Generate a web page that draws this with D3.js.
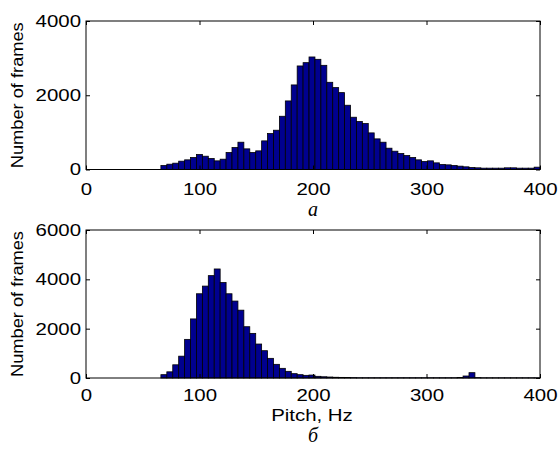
<!DOCTYPE html>
<html>
<head>
<meta charset="utf-8">
<script src="https://cdn.jsdelivr.net/npm/d3@7"></script>
<style>
  body { margin: 0; background: #fff; }
  text { font-family: "Liberation Sans", Arial, sans-serif; fill: #000; }
</style>
</head>
<body>
<svg id="canvas"></svg>
<script>
"use strict";

// pitch histogram bins (Hz)
const binStart = 66;
const binWidth = 5.22;

// (a) number of frames per bin
const framesA = [
  108, 143, 170, 224, 260, 323, 403, 358, 296, 233,
  278, 457, 592, 735, 556, 457, 502, 771, 968, 1058,
  1434, 1847, 2278, 2789, 2878, 3031, 2968, 2806, 2349, 2206,
  2071, 1731, 1408, 1292, 1238, 986, 825, 735, 574, 493,
  430, 376, 323, 260, 215, 233, 179, 134, 125, 108,
  90, 72, 54, 45, 36, 36, 36, 36, 45, 45,
  36, 36, 36, 63
];

// (б) number of frames per bin
const framesB = [
  135, 250, 535, 885, 1566, 2395, 3415, 3726, 4150, 4420,
  3868, 3415, 3119, 2750, 2079, 1809, 1377, 1107, 797, 554,
  392, 270, 176, 135, 108, 120, 68, 50, 40, 30,
  25, 20, 15, 10, 10, 10, 10, 10, 10, 10,
  10, 10, 10, 10, 10, 10, 10, 10, 10, 10,
  20, 81, 216, 15, 8, 8, 8, 8, 8, 8,
  8, 8, 8, 8
];

const xTicks = [0, 100, 200, 300, 400];
const yTicksA = [0, 2000, 4000];
const yTicksB = [0, 2000, 4000, 6000];

const width = 560;
const height = 452;
const left = 86;
const right = 540;
const stretch = 1.2;

const canvas = d3.select("#canvas").attr("width", width).attr("height", height);

const xScale = d3.scaleLinear().domain([0, 400]).range([left, right]);

const widen = (sel, k) => {
  sel.each(function () {
    const w = this.getComputedTextLength();
    this.setAttribute("textLength", w * k);
    this.setAttribute("lengthAdjust", "spacingAndGlyphs");
  });
};

const drawPanel = (counts, yMax, yTicks, top, bottom, pad) => {
  const yScale = d3.scaleLinear().domain([0, yMax]).range([bottom, top]);
  const g = canvas.append("g");

  const bins = counts.map((c, i) => ({
    x0: binStart + i * binWidth,
    x1: binStart + (i + 1) * binWidth,
    count: c
  }));

  g.selectAll("rect.bar")
    .data(bins)
    .enter()
    .append("rect")
    .attr("class", "bar")
    .attr("x", (d) => xScale(d.x0))
    .attr("width", (d) => xScale(d.x1) - xScale(d.x0))
    .attr("y", (d) => yScale(d.count))
    .attr("height", (d) => yScale(0) - yScale(d.count))
    .attr("fill", "#00008f")
    .attr("stroke", "#000")
    .attr("stroke-width", 0.8);

  // box
  g.append("rect")
    .attr("x", left)
    .attr("y", top)
    .attr("width", right - left)
    .attr("height", bottom - top)
    .attr("fill", "none")
    .attr("stroke", "#000")
    .attr("stroke-width", 1);

  const xAxis = d3.axisBottom(xScale).tickValues(xTicks).tickSizeInner(-4).tickSizeOuter(0).tickPadding(pad);
  const xAxisTop = d3.axisTop(xScale).tickValues(xTicks).tickSizeInner(-4).tickSizeOuter(0).tickFormat("");
  const yAxis = d3.axisLeft(yScale).tickValues(yTicks).tickSizeInner(-4).tickSizeOuter(0).tickPadding(5).tickFormat(d3.format("d"));
  const yAxisRight = d3.axisRight(yScale).tickValues(yTicks).tickSizeInner(-4).tickSizeOuter(0).tickFormat("");

  const gx = g.append("g").attr("transform", `translate(0,${bottom})`).call(xAxis);
  g.append("g").attr("transform", `translate(0,${top})`).call(xAxisTop);
  const gy = g.append("g").attr("transform", `translate(${left},0)`).call(yAxis);
  g.append("g").attr("transform", `translate(${right},0)`).call(yAxisRight);

  g.selectAll(".domain").remove();
  g.selectAll(".tick line").attr("stroke", "#000");

  gx.selectAll("text").attr("font-size", 17).attr("font-family", "Liberation Sans").call(widen, stretch);
  gy.selectAll("text").attr("font-size", 17).attr("font-family", "Liberation Sans").call(widen, stretch);

  const yl = g.append("text")
    .attr("transform", `translate(23,${(top + bottom) / 2}) rotate(-90)`)
    .attr("text-anchor", "middle")
    .attr("font-size", 16)
    .text("Number of frames");
  widen(yl, 1.14);

  return g;
};

drawPanel(framesA, 4000, yTicksA, 21, 169.5, 13);
const gB = drawPanel(framesB, 6000, yTicksB, 230, 378, 11);

const xl = gB.append("text")
  .attr("x", (left + right) / 2 - 1)
  .attr("y", 421)
  .attr("text-anchor", "middle")
  .attr("font-size", 17)
  .text("Pitch, Hz");
widen(xl, stretch);

canvas.append("text")
  .attr("x", (left + right) / 2)
  .attr("y", 216)
  .attr("text-anchor", "middle")
  .attr("font-style", "italic")
  .attr("font-size", 20)
  .style("font-family", "'Liberation Serif', serif")
  .text("a");

canvas.append("text")
  .attr("x", (left + right) / 2)
  .attr("y", 442)
  .attr("text-anchor", "middle")
  .attr("font-style", "italic")
  .attr("font-size", 20)
  .style("font-family", "'Liberation Serif', serif")
  .text("б");
</script>
</body>
</html>
